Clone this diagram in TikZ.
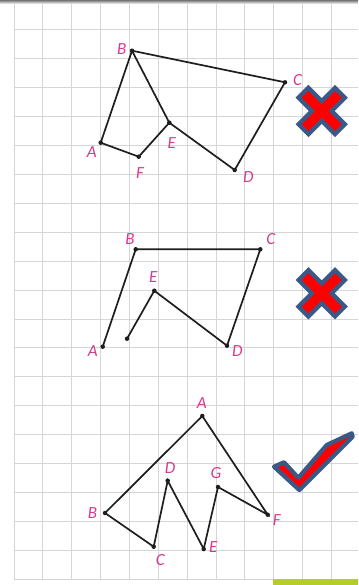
\documentclass[tikz,border=0pt]{standalone}
\usepackage{fontspec}
\setmainfont{Carlito}
\definecolor{lbl}{RGB}{214,60,140}
\definecolor{gridc}{RGB}{214,214,214}
\definecolor{mkblue}{RGB}{59,89,135}
\definecolor{mkred}{RGB}{255,0,0}
\definecolor{barg}{RGB}{181,204,42}
\definecolor{ln}{RGB}{30,30,30}
\tikzset{
  dot/.style={circle,fill=ln,inner sep=0pt,minimum size=4.5pt},
  lab/.style={text=lbl,font=\fontsize{17}{17}\selectfont\itshape,inner sep=0pt},
  seg/.style={draw=ln,line width=1.7pt},
  signmark/.style={draw=mkblue,fill=mkred,line width=4.2pt,line join=miter}
}
\begin{document}
\begin{tikzpicture}[x=1pt,y=-1pt]
\useasboundingbox (0,0) rectangle (358,585);
% top shadow
\shade[top color=black!55,bottom color=white] (0,0) rectangle (358,4);
% grid
\foreach \k in {0,...,11} \draw[gridc,line width=1pt] ({14+28.86*\k},3) -- ({14+28.86*\k},580);
\foreach \k in {0,...,19} \draw[gridc,line width=1pt] (14,{30+28.9*\k}) -- (358,{30+28.9*\k});
% green bar
\fill[barg] (273,579) rectangle (358,585);

% ---------- figure 1 ----------
\node[dot] (A1) at (100.7,142.7) {};
\node[dot] (B1) at (132,50.7) {};
\node[dot] (C1) at (285,82.3) {};
\node[dot] (D1) at (234.7,170) {};
\node[dot] (E1) at (169.3,122.7) {};
\node[dot] (F1) at (138.7,156.7) {};
\draw[seg] (A1.center) -- (B1.center) -- (C1.center) -- (D1.center) -- (E1.center) -- (F1.center) -- (A1.center);
\draw[seg] (B1.center) -- (E1.center);
\node[lab] (lA1) at (91.7,151.7) {A};
\node[lab] (lB1) at (121.7,49.3) {B};
\node[lab] (lC1) at (297.5,80) {C};
\node[lab] (lD1) at (248.3,176.7) {D};
\node[lab] (lE1) at (171.7,143.3) {E};
\node[lab] (lF1) at (140,172.7) {F};

% ---------- figure 2 ----------
\node[dot] (A2) at (102.7,346.7) {};
\node[dot] (B2) at (135.7,249.3) {};
\node[dot] (C2) at (260.3,249.3) {};
\node[dot] (D2) at (227,345.7) {};
\node[dot] (E2) at (154.3,290.7) {};
\node[dot] (P2) at (127,338.7) {};
\draw[seg] (A2.center) -- (B2.center) -- (C2.center) -- (D2.center) -- (E2.center) -- (P2.center);
\node[lab] (lA2) at (92.7,350.7) {A};
\node[lab] (lB2) at (130,239.3) {B};
\node[lab] (lC2) at (270.7,239.3) {C};
\node[lab] (lD2) at (237.3,350.7) {D};
\node[lab] (lE2) at (153.3,277.3) {E};

% ---------- figure 3 ----------
\node[dot] (A3) at (202.3,416) {};
\node[dot] (B3) at (105,513) {};
\node[dot] (C3) at (153.7,546.7) {};
\node[dot] (D3) at (167.7,480.7) {};
\node[dot] (E3) at (203.7,549) {};
\node[dot] (G3) at (218,487) {};
\node[dot] (F3) at (267.7,514.7) {};
\draw[seg] (A3.center) -- (B3.center) -- (C3.center) -- (D3.center) -- (E3.center) -- (G3.center) -- (F3.center) -- (A3.center);
\node[lab] (lA3) at (201.7,403.3) {A};
\node[lab] (lB3) at (92.5,512.7) {B};
\node[lab] (lC3) at (160.3,560) {C};
\node[lab] (lD3) at (170,468.3) {D};
\node[lab] (lE3) at (213.3,546.7) {E};
\node[lab] (lF3) at (276.7,520) {F};
\node[lab] (lG3) at (216,473.3) {G};

% ---------- marks ----------
\foreach \cy in {111,293.3}{
  \begin{scope}[shift={(321.7,\cy)},rotate=45]
    \path[signmark] (25.8,7) -- (7,7) -- (7,25.8) -- (-7,25.8) -- (-7,7) -- (-25.8,7) -- (-25.8,-7) -- (-7,-7) -- (-7,-25.8) -- (7,-25.8) -- (7,-7) -- (25.8,-7) -- cycle;
  \end{scope}
}
\path[signmark,line join=round] (274,466.7) -- (284,462.2) -- (298.3,477.8) -- (326.7,445) -- (351.7,433.3) -- (352.7,436.7) -- (299.3,490) -- cycle;
\end{tikzpicture}
\end{document}
